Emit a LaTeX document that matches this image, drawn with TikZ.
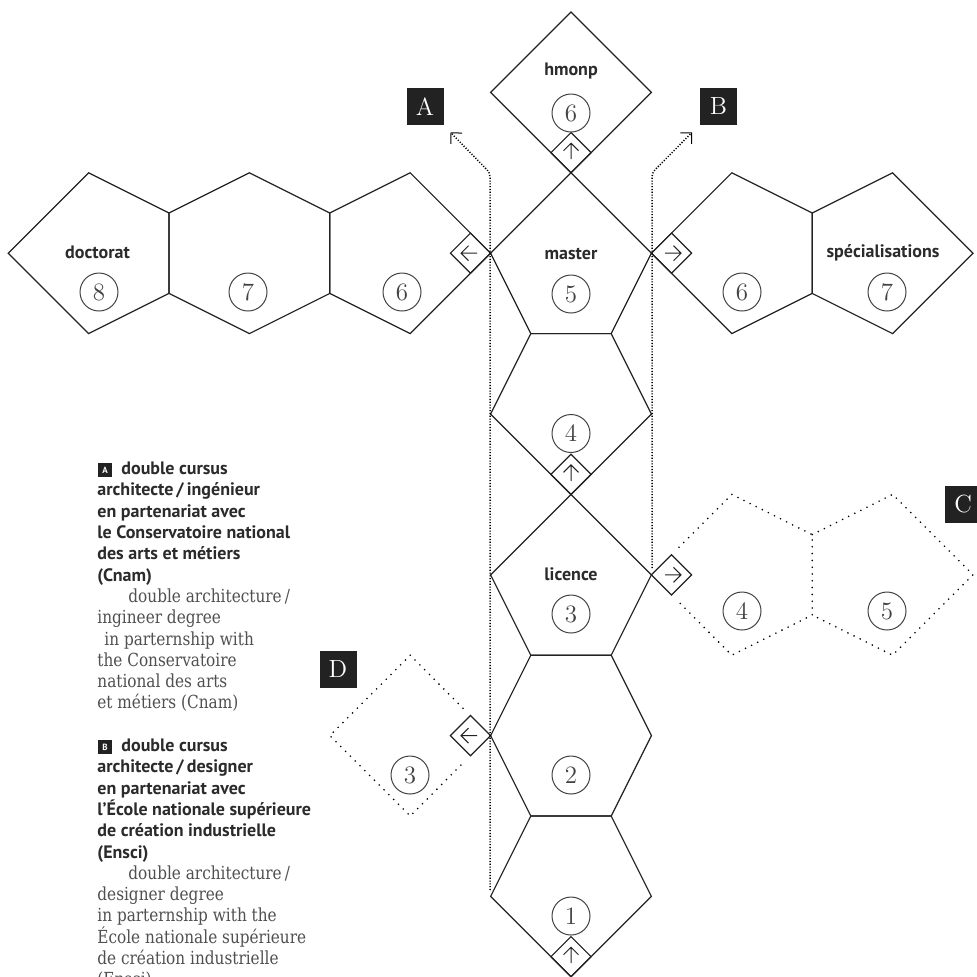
\documentclass[tikz,border=0pt]{standalone}
\usepackage{fontspec}
\usetikzlibrary{arrows.meta}
\newfontfamily\bsans{PT Sans}
\newfontfamily\sser[FakeStretch=0.85]{DejaVu Serif}
\definecolor{ink}{HTML}{222222}
\definecolor{txt}{HTML}{2B2B2B}
\definecolor{gtxt}{HTML}{505050}
\tikzset{
 shp/.style={draw=ink, line width=0.6pt, line join=miter},
 dshp/.style={draw=black, line width=0.9pt, line cap=round, dash pattern=on 0pt off 3.4pt},
 vdot/.style={draw=black, line width=0.75pt, dash pattern=on 0.55pt off 0.85pt},
 num/.style={circle, draw=ink!85, line width=0.5pt, minimum size=19pt, inner sep=0pt, font=\fontsize{12.5}{12.5}\selectfont, text=ink!85},
 lbl/.style={anchor=base, font=\bsans\bfseries\fontsize{9}{9}\selectfont, text=txt, inner sep=0pt},
 tagbox/.style={fill=ink, minimum width=18.5pt, minimum height=18.5pt, inner sep=0pt, text=white, font=\fontsize{12.4}{12.4}\selectfont},
 bl/.style={anchor=base west, inner sep=0pt, font=\bsans\bfseries\fontsize{9}{9}\selectfont, text=txt},
 sl/.style={anchor=base west, inner sep=0pt, font=\sser\fontsize{9}{9}\selectfont, text=gtxt},
 minitag/.style={fill=ink, minimum width=7pt, minimum height=7pt, inner sep=0pt, text=white, font=\bsans\bfseries\fontsize{4.5}{4.5}\selectfont},
 glyph/.style={draw=ink, line width=0.5pt},
 uparr/.pic={\draw[glyph] (0,6.5) -- (0,-9.5) (-7.5,-2) -- (0,-9.5) -- (7.5,-2);},
 leftarr/.pic={\draw[glyph] (6.5,0) -- (-9.5,0) (-2,-7.5) -- (-9.5,0) -- (-2,7.5);},
 rightarr/.pic={\draw[glyph] (-6.5,0) -- (9.5,0) (2,-7.5) -- (9.5,0) -- (2,7.5);},
}
\begin{document}
\begin{tikzpicture}[x=0.5pt, y=-0.5pt]
\fill[white] (0,0) rectangle (977,976);
\useasboundingbox (0,0) rectangle (977,976);

% ---- vertical column ----
\draw[shp] (571,12) -- (651.4,92.4) -- (571,172.8) -- (490.6,92.4) -- cycle; % hmonp
\draw[shp] (571,172.8) -- (651.4,253.2) -- (611.2,333.6) -- (530.8,333.6) -- (490.6,253.2) -- cycle; % master
\draw[shp] (530.8,333.6) -- (611.2,333.6) -- (651.4,414) -- (571,494.4) -- (490.6,414) -- cycle; % 4
\draw[shp] (571,494.4) -- (651.4,574.8) -- (611.2,655.2) -- (530.8,655.2) -- (490.6,574.8) -- cycle; % licence
\draw[shp] (530.8,655.2) -- (611.2,655.2) -- (651.4,735.6) -- (611.2,816) -- (530.8,816) -- (490.6,735.6) -- cycle; % 2
\draw[shp] (530.8,816) -- (611.2,816) -- (651.4,896.4) -- (571,976.8) -- (490.6,896.4) -- cycle; % 1

% ---- left row ----
\draw[shp] (410.2,172.8) -- (490.6,253.2) -- (410.2,333.6) -- (329.8,293.4) -- (329.8,213) -- cycle;
\draw[shp] (249.4,172.8) -- (329.8,213) -- (329.8,293.4) -- (249.4,333.6) -- (169,293.4) -- (169,213) -- cycle;
\draw[shp] (88.6,172.8) -- (169,213) -- (169,293.4) -- (88.6,333.6) -- (8.2,253.2) -- cycle;

% ---- right row ----
\draw[shp] (731.8,172.8) -- (812.2,213) -- (812.2,293.4) -- (731.8,333.6) -- (651.4,253.2) -- cycle;
\draw[shp] (892.6,172.8) -- (973,253.2) -- (892.6,333.6) -- (812.2,293.4) -- (812.2,213) -- cycle;

% ---- dotted C ----
\draw[dshp] (679,547.3) -- (731.8,494.4) -- (812.2,534.6) -- (812.2,615) -- (731.8,655.2) -- (679,602.3);
\draw[dshp] (812.2,534.6) -- (892.6,494.4) -- (973,574.8) -- (892.6,655.2) -- (812.2,615);

% ---- dotted D ----
\draw[dshp] (463,708.2) -- (410.2,655.2) -- (329.8,735.6) -- (410.2,816) -- (463,763);

% ---- small arrow diamonds ----
\draw[shp] (571,132.6) -- (591.1,152.7) -- (571,172.8) -- (550.9,152.7) -- cycle;
\pic at (571,152.7) {uparr};
\draw[shp] (490.6,253.2) -- (470.5,233.1) -- (450.4,253.2) -- (470.5,273.3) -- cycle;
\pic at (470.5,253.2) {leftarr};
\draw[shp] (651.4,253.2) -- (671.5,233.1) -- (691.6,253.2) -- (671.5,273.3) -- cycle;
\pic at (671.5,253.2) {rightarr};
\draw[shp] (571,454.2) -- (591.1,474.3) -- (571,494.4) -- (550.9,474.3) -- cycle;
\pic at (571,474.3) {uparr};
\draw[shp] (651.4,574.8) -- (671.5,554.7) -- (691.6,574.8) -- (671.5,594.9) -- cycle;
\pic at (671.5,574.8) {rightarr};
\draw[shp] (490.6,735.6) -- (470.5,715.5) -- (450.4,735.6) -- (470.5,755.7) -- cycle;
\pic at (470.5,735.6) {leftarr};
\draw[shp] (571,936.6) -- (591.1,956.7) -- (571,976.8) -- (550.9,956.7) -- cycle;
\pic at (571,956.7) {uparr};

% ---- dotted connectors A and B ----
\coordinate (aS) at (490,890);
\coordinate (aB) at (490,172.8);
\coordinate (aT) at (450.5,132.4);
\coordinate (bS) at (652,568);
\coordinate (bB) at (652,172.8);
\coordinate (bT) at (692,132.4);
\draw[vdot, rounded corners=2pt, -{Straight Barb[length=3.9pt, width=7.8pt, line width=0.5pt]}] (aS) -- (aB) -- (aT);
\draw[vdot, rounded corners=2pt, -{Straight Barb[length=3.9pt, width=7.8pt, line width=0.5pt]}] (bS) -- (bB) -- (bT);

% ---- tags ----
\node[tagbox] (tA) at (425,106.5) {A};
\node[tagbox] (tB) at (718.5,106.5) {B};
\node[tagbox] (tC) at (963,504) {C};
\node[tagbox] (tD) at (338,669.5) {D};

% ---- labels ----
\node[lbl] (lh) at (571,75) {hmonp};
\node[lbl] (ld) at (97.5,258) {doctorat};
\node[lbl] (lm) at (571,259.5) {master};
\node[lbl] (ls) at (883,257.5) {spécialisations};
\node[lbl] (ll) at (571,580.5) {licence};

% ---- numbers ----
\node[num] (n6h) at (571,113) {6};
\node[num] (n5) at (571,294) {5};
\node[num] (n4) at (571,433.5) {4};
\node[num] (n3) at (571,614) {3};
\node[num] (n2) at (571,775) {2};
\node[num] (n1) at (571,916) {1};
\node[num] (n8) at (99,292) {8};
\node[num] (n7) at (248,292) {7};
\node[num] (n6l) at (402,292) {6};
\node[num] (n6r) at (742,292) {6};
\node[num] (n7r) at (887,292) {7};
\node[num] (nc4) at (742,611) {4};
\node[num] (nc5) at (887,611) {5};
\node[num] (nd3) at (410,775) {3};

% ---- text block A ----
\node[minitag] (ma) at (105,470) {A};
\node[bl] (a1) at (121,474.6) {double cursus};
\node[bl] (a2) at (97,495.9) {architecte\,/\,ingénieur};
\node[bl] (a3) at (97,517.2) {en partenariat avec};
\node[bl] (a4) at (97,538.5) {le Conservatoire national};
\node[bl] (a5) at (97,559.8) {des arts et métiers};
\node[bl] (a6) at (97,581.1) {(Cnam)};
\node[sl] (a7) at (128,602.4) {double architecture\,/};
\node[sl] (a8) at (97,623.7) {ingineer degree};
\node[sl] (a9) at (104,645.0) {in parternship with};
\node[sl] (a10) at (97,666.3) {the Conservatoire};
\node[sl] (a11) at (97,687.6) {national des arts};
\node[sl] (a12) at (97,708.9) {et métiers (Cnam)};

% ---- text block B ----
\node[minitag] (mb) at (105,746.9) {B};
\node[bl] (b1) at (121,751.5) {double cursus};
\node[bl] (b2) at (97,772.8) {architecte\,/\,designer};
\node[bl] (b3) at (97,794.1) {en partenariat avec};
\node[bl] (b4) at (97,815.4) {l’École nationale supérieure};
\node[bl] (b5) at (97,836.7) {de création industrielle};
\node[bl] (b6) at (97,858.0) {(Ensci)};
\node[sl] (b7) at (128,879.3) {double architecture\,/};
\node[sl] (b8) at (97,900.6) {designer degree};
\node[sl] (b9) at (97,921.9) {in parternship with the};
\node[sl] (b10) at (97,943.2) {École nationale supérieure};
\node[sl] (b11) at (97,964.5) {de création industrielle};
\node[sl] (b12) at (97,985.8) {(Ensci)};
\end{tikzpicture}
\end{document}
